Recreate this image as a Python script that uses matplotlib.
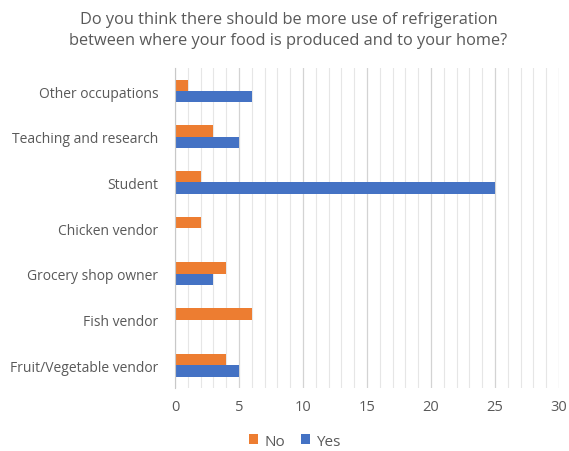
import numpy as np
import matplotlib.pyplot as plt
from matplotlib.ticker import MultipleLocator

occupations = ['Other occupations', 'Teaching and research', 'Student', 'Chicken vendor',
               'Grocery shop owner', 'Fish vendor', 'Fruit/Vegetable vendor']
no_counts = [1, 3, 2, 2, 4, 6, 4]
yes_counts = [6, 5, 25, 0, 3, 0, 5]
x_ticks = [0, 5, 10, 15, 20, 25, 30]

plt.rcParams['font.family'] = ['Open Sans', 'DejaVu Sans']
text_color = '#595959'

fig = plt.figure(figsize=(5.69, 4.52), dpi=100)
ax = fig.add_axes([0.3076, 0.139, 0.6748, 0.708])

pos = np.arange(len(occupations))
h = 0.25
ax.barh(pos - h / 2, no_counts, height=h, color='#ED7D31', label='No', zorder=3)
ax.barh(pos + h / 2, yes_counts, height=h, color='#4472C4', label='Yes', zorder=3)

ax.set_ylim(len(occupations) - 0.5, -0.5)
ax.set_yticks(pos)
ax.set_yticklabels(occupations, fontsize=10, color=text_color)
ax.set_xlim(0, 30)
ax.set_xticks(x_ticks)
ax.set_xticklabels([str(t) for t in x_ticks], fontsize=10.5, color=text_color)
ax.xaxis.set_minor_locator(MultipleLocator(1))
ax.grid(axis='x', which='major', color='#D3D3D3', linewidth=0.9, zorder=0)
ax.grid(axis='x', which='minor', color='#E6E6E6', linewidth=0.8, zorder=0)
ax.tick_params(axis='y', which='both', length=0, pad=12)
ax.tick_params(axis='x', which='both', length=0, pad=8)

for side in ['top', 'right', 'bottom']:
    ax.spines[side].set_visible(False)
ax.spines['left'].set_color('#C8C8C8')
ax.spines['left'].set_zorder(4)

fig.text(0.507, 0.974, 'Do you think there should be more use of refrigeration\n'
         'between where your food is produced and to your home?',
         ha='center', va='top', fontsize=11.8, color=text_color, linespacing=1.4)

handles, labels = ax.get_legend_handles_labels()
fig.legend(handles, labels, loc='center', bbox_to_anchor=(0.518, 0.022), ncol=2,
           frameon=False, fontsize=11, handlelength=0.6, handleheight=0.6,
           handletextpad=0.4, columnspacing=1.0, labelcolor=text_color)

fig.savefig('out.png', dpi=100, facecolor='white')
